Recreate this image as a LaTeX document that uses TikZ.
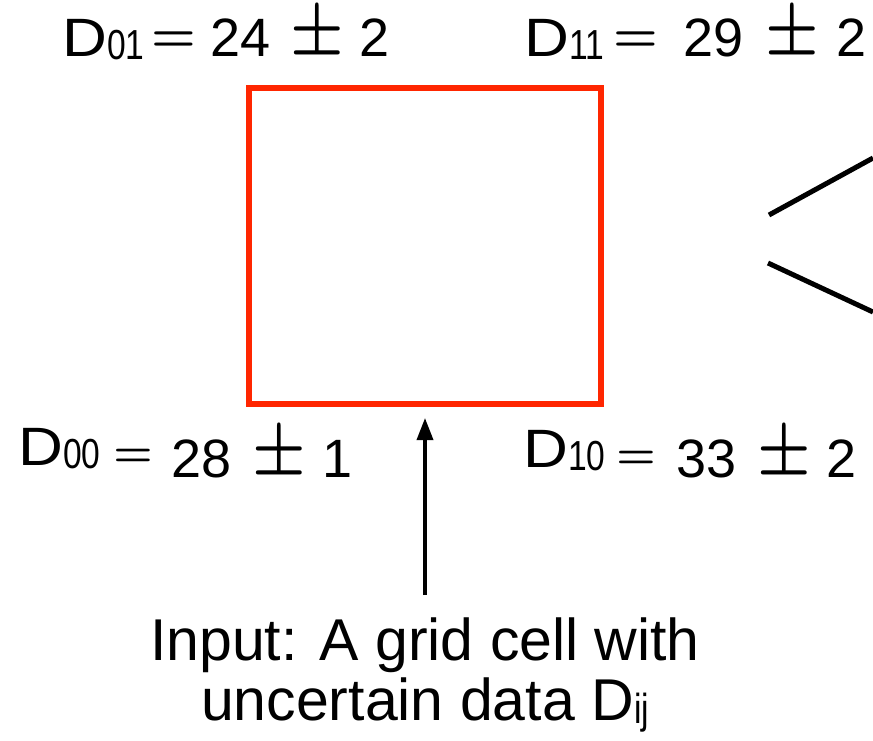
\documentclass[tikz,border=0pt]{standalone}
\usepackage{fontspec}
\setmainfont{Liberation Sans}
\usetikzlibrary{arrows.meta}
\definecolor{cellred}{RGB}{255,38,0}
\newcommand{\dsub}[1]{\raisebox{-3pt}{\scalebox{0.8}[1]{\fontsize{42}{42}\selectfont #1}}}
\newcommand{\bigD}{\scalebox{1.15}[1]{D}}
\newcommand{\EQ}[2]{{\fontsize{10}{12}\selectfont\boldmath\raisebox{#1}{\scalebox{#2}{$=$}}}}
\newcommand{\PM}{{\fontsize{10}{12}\selectfont\boldmath\raisebox{5pt}[49pt][2pt]{\scalebox{6}[6.8]{$\pm$}}}}
\begin{document}
\begin{tikzpicture}[x=1pt,y=-1pt,
  lab/.style={anchor=base west, inner sep=0pt, font=\fontsize{54}{60}\selectfont},
  caption/.style={anchor=base, inner sep=0pt, font=\fontsize{59}{60}\selectfont},
  cellbox/.style={draw=cellred, line width=6pt, minimum width=352pt, minimum height=316pt, inner sep=0pt},
  arr/.style={line width=3.5pt, -{Triangle[length=22pt,width=16pt]}},
  edge/.style={line width=5pt}]
\useasboundingbox (0,0) rectangle (873,741);
\node[cellbox] (cell) at (425,246) {};
% corner labels
\node[lab] (l01) at (62,57) {\bigD\dsub{01}\hspace{7pt}\EQ{5.5pt}{5}};
\node[lab] (v01) at (210,57) {24\hspace{20pt}\PM\hspace{16pt}2};
\node[lab] (l11) at (524,57) {\bigD\dsub{11}\hspace{10pt}\EQ{5.5pt}{5}};
\node[lab] (v11) at (683,57) {29\hspace{22pt}\PM\hspace{18pt}2};
\node[lab] (l00) at (18,465) {\bigD\dsub{00}\hspace{13pt}\EQ{-1pt}{4.4}};
\node[lab] (v00) at (171,477) {28\hspace{21pt}\PM\hspace{17pt}1};
\node[lab] (l10) at (523,467) {\bigD\dsub{10}\hspace{11pt}\EQ{-1pt}{4.4}};
\node[lab] (v10) at (676,477) {33\hspace{21pt}\PM\hspace{16pt}2};
% caption
\node[caption] (inp1) at (425,660) {Input: A grid cell with};
\node[caption] (inp2) at (425,720) {uncertain data D\dsub{ij}};
\draw[arr] ([yshift=22pt]inp1.north) -- ([yshift=-11pt]cell.south);
% partial lines leaving to the right
\coordinate (a1) at (769,215);
\coordinate (a2) at (873,158);
\coordinate (b1) at (768,263);
\coordinate (b2) at (873,312);
\draw[edge] (a1) -- (a2);
\draw[edge] (b1) -- (b2);
\end{tikzpicture}
\end{document}
